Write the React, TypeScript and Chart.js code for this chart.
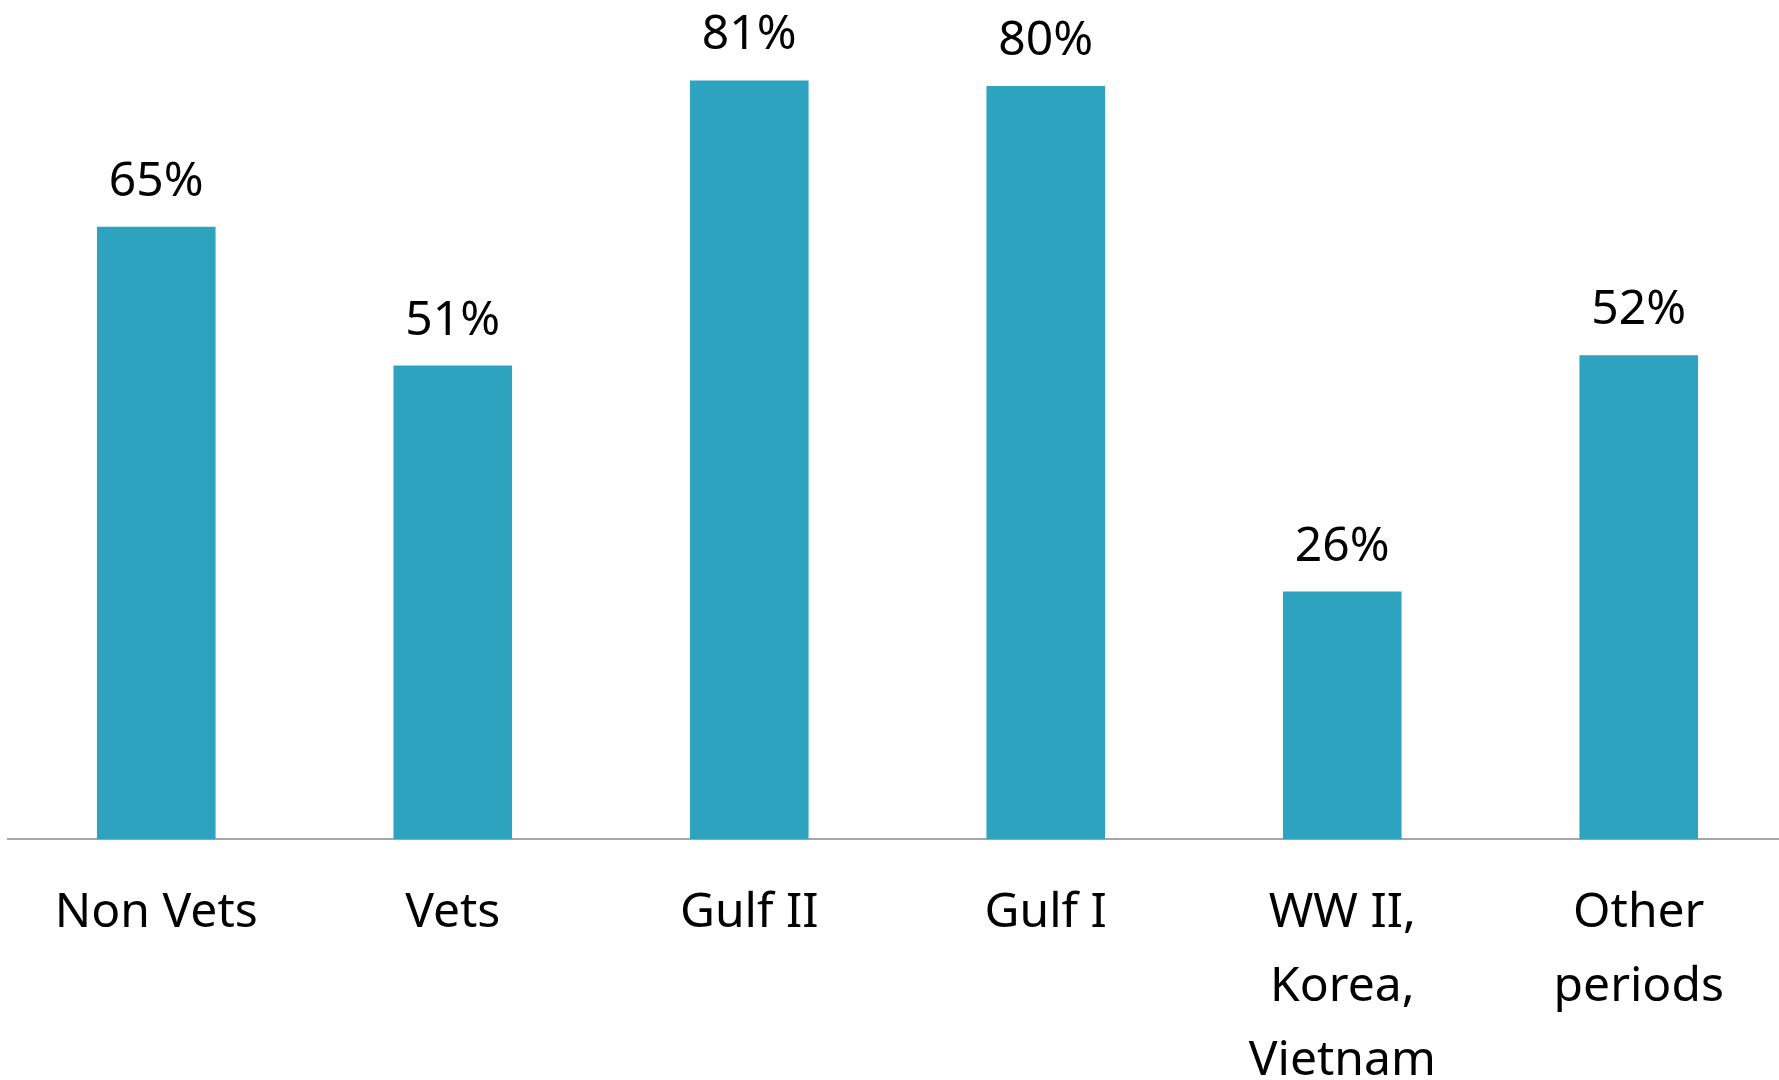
import React, { useEffect, useRef } from "react";
import { Chart, registerables } from "chart.js";

Chart.register(...registerables);

const categories: (string | string[])[] = [
  "Non Vets",
  "Vets",
  "Gulf II",
  "Gulf I",
  ["WW II,", "Korea,", "Vietnam"],
  ["Other", "periods"],
];
const values: number[] = [65.3, 50.5, 80.9, 80.3, 26.4, 51.6];
const valueLabels: string[] = ["65%", "51%", "81%", "80%", "26%", "52%"];

const BAR_COLOR = "#2da3bf";
const FONT = '"Noto Sans", "Open Sans", sans-serif';

const valueLabelPlugin = {
  id: "valueLabels",
  afterDatasetsDraw(chart: any) {
    const ctx = chart.ctx;
    const meta = chart.getDatasetMeta(0);
    ctx.save();
    ctx.font = `48px ${FONT}`;
    ctx.fillStyle = "#000000";
    ctx.textAlign = "center";
    ctx.textBaseline = "alphabetic";
    meta.data.forEach((bar: any, i: number) => {
      ctx.fillText(valueLabels[i], bar.x, bar.y - 31);
    });
    ctx.restore();
  },
};

export default function App() {
  const canvasRef = useRef<HTMLCanvasElement | null>(null);

  useEffect(() => {
    if (!canvasRef.current) return;
    const chart = new Chart(canvasRef.current, {
      type: "bar",
      data: {
        labels: categories,
        datasets: [
          {
            data: values,
            backgroundColor: BAR_COLOR,
            borderWidth: 0,
            categoryPercentage: 1,
            barPercentage: 0.4,
          },
        ],
      },
      options: {
        animation: false,
        responsive: true,
        maintainAspectRatio: false,
        layout: { padding: { left: 8, right: 0, top: 0, bottom: 0 } },
        plugins: {
          legend: { display: false },
          tooltip: { enabled: false },
        },
        scales: {
          y: {
            display: false,
            min: 0,
            max: 89.47,
          },
          x: {
            grid: { display: false, drawTicks: false },
            border: { display: true, color: "#a6a6a6", width: 2 },
            ticks: {
              color: "#000000",
              padding: 37,
              maxRotation: 0,
              autoSkip: false,
              font: { family: FONT, size: 48, lineHeight: 1.54 },
            },
          },
        },
      },
      plugins: [valueLabelPlugin],
    });
    return () => chart.destroy();
  }, []);

  return (
    <div
      style={{
        position: "fixed",
        left: 0,
        top: 0,
        width: 1779,
        height: 1080,
        overflow: "hidden",
        background: "#ffffff",
      }}
    >
      <div style={{ position: "relative", width: 1787, height: 1135 }}>
        <canvas ref={canvasRef} />
      </div>
    </div>
  );
}
